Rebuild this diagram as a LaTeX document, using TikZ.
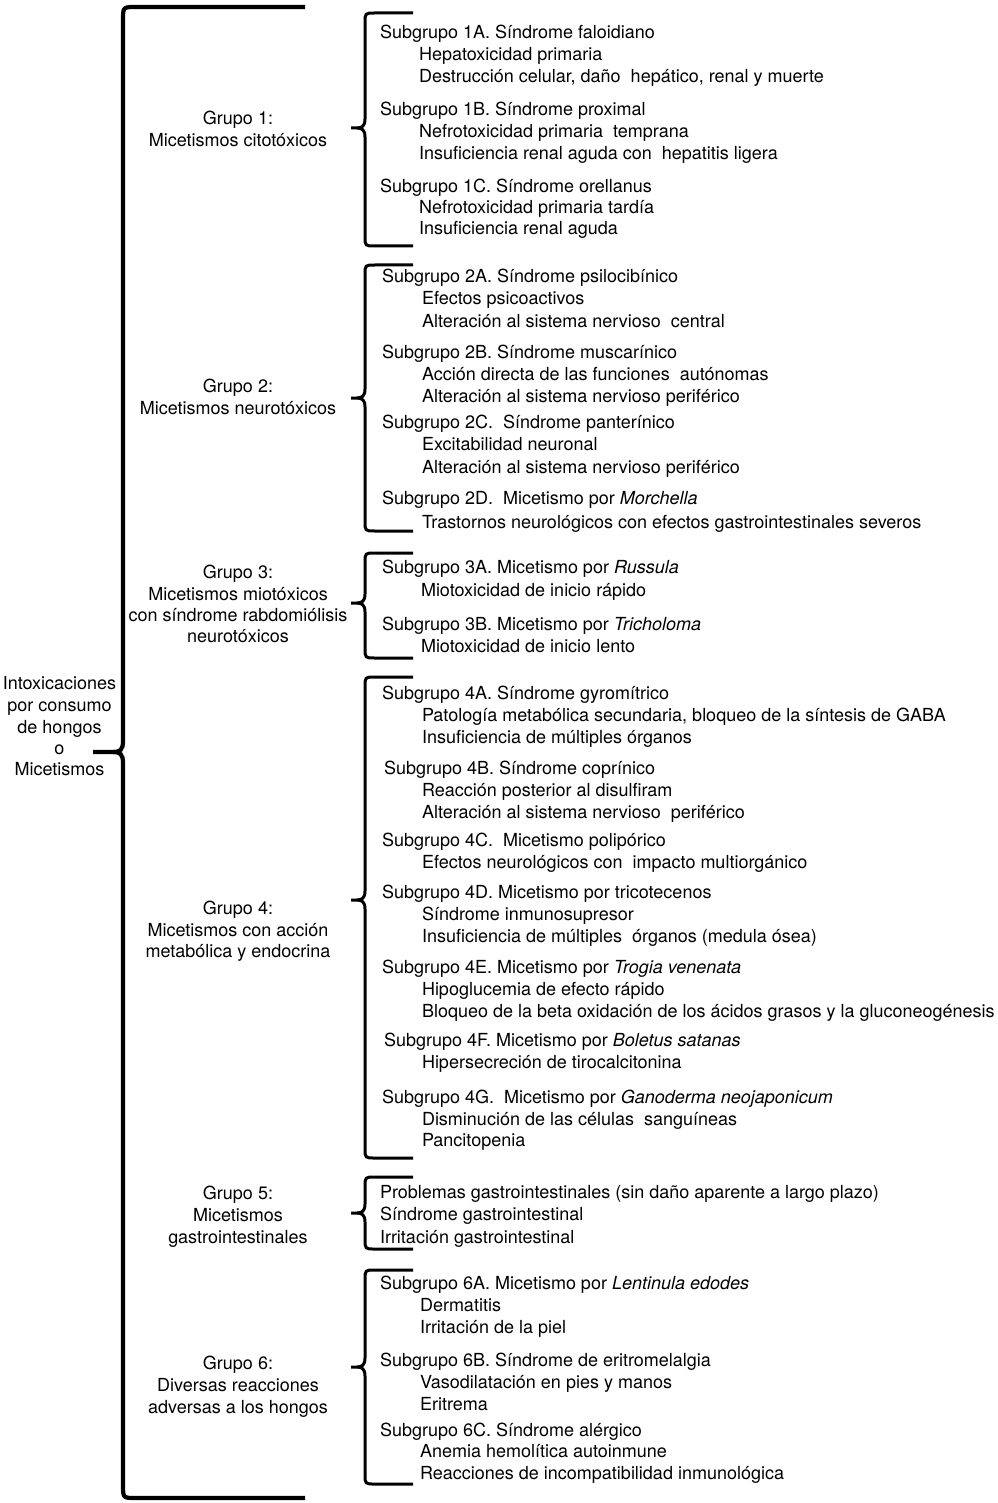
\documentclass[tikz,border=0pt]{standalone}
\usepackage{fontspec}
\setmainfont{TeX Gyre Heros}
\newcommand\subbrace[3]{% top y, tip y, bottom y
  \draw[subbr] (413,#1) -- (375,#1) .. controls (365,#1) .. (365,#1+10)
    -- (365,#2-9) .. controls (365,#2-2) and (362,#2) .. (357,#2) -- (351,#2);
  \draw[subbr] (357,#2) .. controls (362,#2) and (365,#2+2) .. (365,#2+9)
    -- (365,#3-10) .. controls (365,#3) .. (375,#3) -- (413,#3);
}
\begin{document}
\begin{tikzpicture}[x=1pt,y=-1pt,
  every node/.style={font=\fontsize{18}{22}\selectfont,inner sep=0pt,outer sep=0pt},
  hdr/.style={anchor=base west},
  itm/.style={anchor=base west},
  glab/.style={anchor=base},
  mainbr/.style={line width=4.2pt,line cap=butt},
  subbr/.style={line width=3pt,line cap=butt}]
\useasboundingbox (0,0) rectangle (997,1503);

% main brace
\draw[mainbr] (305,7) -- (136,7) .. controls (123,7) .. (123,20)
  -- (123,741) .. controls (123,750) and (120,752) .. (113,752) -- (93,752);
\draw[mainbr] (113,752) .. controls (120,752) and (123,754) .. (123,763)
  -- (123,1485) .. controls (123,1498) .. (136,1498) -- (305,1498);

% main label
\node[glab] (m1) at (59.5,689) {Intoxicaciones};
\node[glab] (m2) at (59.5,711) {por consumo};
\node[glab] (m3) at (59.5,733) {de hongos};
\node[glab] (m4) at (59.5,754) {o};
\node[glab] (m5) at (59.5,775) {Micetismos};

% group labels
\node[glab] (g1a) at (238,125) {Grupo 1:};
\node[glab] (g1b) at (238,147) {Micetismos citotóxicos};
\node[glab] (g2a) at (238,392) {Grupo 2:};
\node[glab] (g2b) at (238,414) {Micetismos neurotóxicos};
\node[glab] (g3a) at (238,578) {Grupo 3:};
\node[glab] (g3b) at (238,600) {Micetismos miotóxicos};
\node[glab] (g3c) at (238,621) {con síndrome rabdomiólisis};
\node[glab] (g3d) at (238,642) {neurotóxicos};
\node[glab] (g4a) at (238,914) {Grupo 4:};
\node[glab] (g4b) at (238,936) {Micetismos con acción};
\node[glab] (g4c) at (238,957) {metabólica y endocrina};
\node[glab] (g5a) at (238,1199) {Grupo 5:};
\node[glab] (g5b) at (238,1221) {Micetismos};
\node[glab] (g5c) at (238,1243) {gastrointestinales};
\node[glab] (g6a) at (238,1369) {Grupo 6:};
\node[glab] (g6b) at (238,1391) {Diversas reacciones};
\node[glab] (g6c) at (238,1413) {adversas a los hongos};

% sub braces
\subbrace{13}{128}{246}
\subbrace{265}{398}{531}
\subbrace{553}{603}{658}
\subbrace{677}{900}{1158}
\subbrace{1177}{1213}{1249}
\subbrace{1270}{1367}{1484}

% group 1
\node[hdr] (s1a) at (380,39) {Subgrupo 1A. Síndrome faloidiano};
\node[itm] (s1a1) at (419,61) {Hepatoxicidad primaria};
\node[itm] (s1a2) at (419,83) {Destrucción celular, daño~ hepático, renal y muerte};
\node[hdr] (s1b) at (380,116) {Subgrupo 1B. Síndrome proximal};
\node[itm] (s1b1) at (419,138) {Nefrotoxicidad primaria~ temprana};
\node[itm] (s1b2) at (419,160) {Insuficiencia renal aguda con~ hepatitis ligera};
\node[hdr] (s1c) at (380,193) {Subgrupo 1C. Síndrome orellanus};
\node[itm] (s1c1) at (419,214) {Nefrotoxicidad primaria tardía};
\node[itm] (s1c2) at (419,235) {Insuficiencia renal aguda};

% group 2
\node[hdr] (s2a) at (382,283) {Subgrupo 2A. Síndrome psilocibínico};
\node[itm] (s2a1) at (422,305) {Efectos psicoactivos};
\node[itm] (s2a2) at (422,327) {Alteración al sistema nervioso~ central};
\node[hdr] (s2b) at (382,358) {Subgrupo 2B. Síndrome muscarínico};
\node[itm] (s2b1) at (422,380) {Acción directa de las funciones~ autónomas};
\node[itm] (s2b2) at (422,402) {Alteración al sistema nervioso periférico};
\node[hdr] (s2c) at (382,428) {Subgrupo 2C.~ Síndrome panterínico};
\node[itm] (s2c1) at (422,450) {Excitabilidad neuronal};
\node[itm] (s2c2) at (422,473) {Alteración al sistema nervioso periférico};
\node[hdr] (s2d) at (382,504) {Subgrupo 2D.~ Micetismo por \textit{Morchella}};
\node[itm] (s2d1) at (422,528) {Trastornos neurológicos con efectos gastrointestinales severos};

% group 3
\node[hdr] (s3a) at (382,573) {Subgrupo 3A. Micetismo por \textit{Russula}};
\node[itm] (s3a1) at (421,596) {Miotoxicidad de inicio rápido};
\node[hdr] (s3b) at (382,630) {Subgrupo 3B. Micetismo por \textit{Tricholoma}};
\node[itm] (s3b1) at (421,652) {Miotoxicidad de inicio lento};

% group 4
\node[hdr] (s4a) at (382,699) {Subgrupo 4A. Síndrome gyromítrico};
\node[itm] (s4a1) at (422,721) {Patología metabólica secundaria, bloqueo de la síntesis de GABA};
\node[itm] (s4a2) at (422,743) {Insuficiencia de múltiples órganos};
\node[hdr] (s4b) at (384,774) {Subgrupo 4B. Síndrome coprínico};
\node[itm] (s4b1) at (422,796) {Reacción posterior al disulfiram};
\node[itm] (s4b2) at (422,818) {Alteración al sistema nervioso~ periférico};
\node[hdr] (s4c) at (382,846) {Subgrupo 4C.~ Micetismo polipórico};
\node[itm] (s4c1) at (422,868) {Efectos neurológicos con~ impacto multiorgánico};
\node[hdr] (s4d) at (382,898) {Subgrupo 4D. Micetismo por tricotecenos};
\node[itm] (s4d1) at (422,920) {Síndrome inmunosupresor};
\node[itm] (s4d2) at (422,942) {Insuficiencia de múltiples~ órganos (medula ósea)};
\node[hdr] (s4e) at (382,973) {Subgrupo 4E. Micetismo por \textit{Trogia venenata}};
\node[itm] (s4e1) at (422,995) {Hipoglucemia de efecto rápido};
\node[itm] (s4e2) at (422,1017) {Bloqueo de la beta oxidación de los ácidos grasos y la gluconeogénesis};
\node[hdr] (s4f) at (384,1046) {Subgrupo 4F. Micetismo por \textit{Boletus satanas}};
\node[itm] (s4f1) at (422,1068) {Hipersecreción de tirocalcitonina};
\node[hdr] (s4g) at (382,1103) {Subgrupo 4G.~ Micetismo por \textit{Ganoderma neojaponicum}};
\node[itm] (s4g1) at (422,1125) {Disminución de las células~ sanguíneas};
\node[itm] (s4g2) at (422,1146) {Pancitopenia};

% group 5
\node[hdr] (s5a) at (380,1198) {Problemas gastrointestinales (sin daño aparente a largo plazo)};
\node[hdr] (s5b) at (380,1220) {Síndrome gastrointestinal};
\node[hdr] (s5c) at (380,1243) {Irritación gastrointestinal};

% group 6
\node[hdr] (s6a) at (380,1289) {Subgrupo 6A. Micetismo por \textit{Lentinula edodes}};
\node[itm] (s6a1) at (420,1311) {Dermatitis};
\node[itm] (s6a2) at (420,1333) {Irritación de la piel};
\node[hdr] (s6b) at (380,1366) {Subgrupo 6B. Síndrome de eritromelalgia};
\node[itm] (s6b1) at (420,1388) {Vasodilatación en pies y manos};
\node[itm] (s6b2) at (420,1410) {Eritrema};
\node[hdr] (s6c) at (380,1436) {Subgrupo 6C. Síndrome alérgico};
\node[itm] (s6c1) at (420,1457) {Anemia hemolítica autoinmune};
\node[itm] (s6c2) at (420,1479) {Reacciones de incompatibilidad inmunológica};
\end{tikzpicture}
\end{document}
